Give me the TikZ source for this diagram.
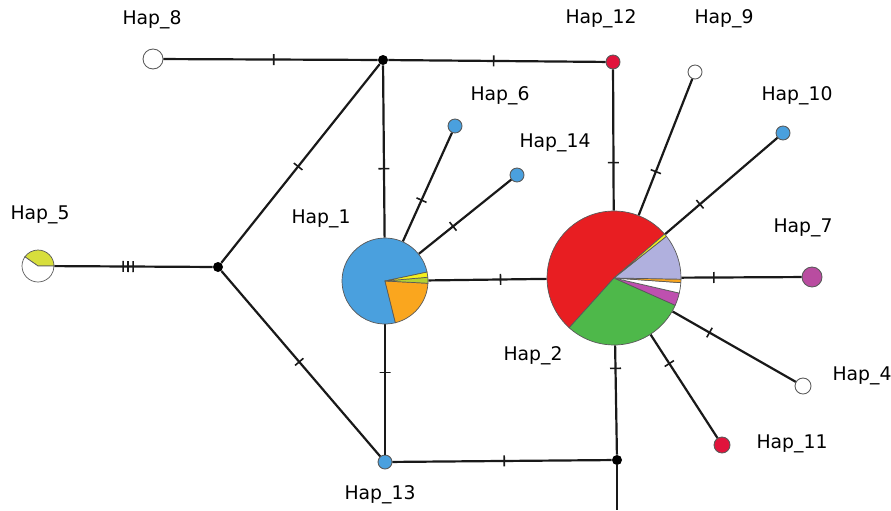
\documentclass[tikz,border=0pt]{standalone}
\usepackage{fontspec}
\setmainfont{DejaVu Sans}
\usepackage{tikz}
\usetikzlibrary{positioning}
\usepackage{xcolor}
\definecolor{hapblue}{RGB}{74,160,222}
\definecolor{haporange}{RGB}{250,166,30}
\definecolor{hapyellow}{RGB}{245,240,30}
\definecolor{hapgreen}{RGB}{78,184,74}
\definecolor{haplime}{RGB}{180,210,50}
\definecolor{hapred}{RGB}{232,30,34}
\definecolor{hapcrimson}{RGB}{225,20,60}
\definecolor{haplav}{RGB}{176,176,222}
\definecolor{hapmag}{RGB}{190,80,175}
\definecolor{happlum}{RGB}{185,76,160}
\definecolor{hapolive}{RGB}{215,222,60}
\tikzstyle{hap}=[circle, draw=black!65, line width=0.5pt, inner sep=0pt]
\tikzstyle{mv}=[circle, fill=black, inner sep=0pt, minimum size=0.2cm]
\tikzstyle{link}=[line width=1.25pt, black!90]
\tikzstyle{mut}=[rectangle, sloped, draw, line width=0.9pt, inner sep=0pt, minimum width=0pt, minimum height=0.22cm]
\tikzstyle{lbl}=[font=\fontsize{10.7}{12}\selectfont, inner sep=0pt]
% one wedge of a haplotype pie: centre, radius, start, end, colour
\newcommand{\hapslice}[5]{%
  \filldraw[fill=#5, draw=black!65, line width=0.4pt] (#1.center) -- ++(#3:#2) arc[start angle=#3, end angle=#4, radius=#2] -- cycle;}

\begin{document}
\begin{tikzpicture}[x=0.02cm, y=-0.02cm]
\useasboundingbox (0,0) rectangle (891,510);

% haplotypes
\node[hap, minimum size=0.4cm, fill=white] (hap8) at (153,59) {};
\node[hap, minimum size=0.28cm, fill=hapcrimson] (hap12) at (613,62) {};
\node[hap, minimum size=0.28cm, fill=white] (hap9) at (695,72) {};
\node[hap, minimum size=0.28cm, fill=hapblue] (hap10) at (783,133) {};
\node[hap, minimum size=0.28cm, fill=hapblue] (hap6) at (455,126) {};
\node[hap, minimum size=0.28cm, fill=hapblue] (hap14) at (517,175) {};
\node[hap, minimum size=0.64cm, draw=none] (hap5) at (38,266) {};
\node[hap, minimum size=1.72cm, draw=none] (hap1) at (385,281) {};
\node[hap, minimum size=2.68cm, draw=none] (hap2) at (614,278) {};
\node[hap, minimum size=0.4cm, fill=happlum] (hap7) at (812,277) {};
\node[hap, minimum size=0.32cm, fill=white] (hap4) at (803,386) {};
\node[hap, minimum size=0.32cm, fill=hapcrimson] (hap11) at (722,445) {};
\node[hap, minimum size=0.28cm, fill=hapblue] (hap13) at (385,462) {};

% median vectors
\node[mv] (mvtop) at (383,60) {};
\node[mv] (mvleft) at (218,267) {};
\node[mv] (mvbot) at (617,460) {};
\coordinate (down) at (617,510);

% links with mutation steps
\begin{scope}[link]
    \draw (hap8) -- node[mut, pos=0.515] {} (mvtop);
    \draw (mvtop) -- node[mut, pos=0.485] {} (hap12);
    \draw (mvtop) -- node[mut, pos=0.515] {} (mvleft);
    \draw (mvtop) -- node[mut, pos=0.6] {} (hap1);
    \draw (hap12) -- node[mut, pos=0.66] {} (hap2);
    \draw (hap1) -- node[mut, pos=0.38] {} (hap6);
    \draw (hap1) -- node[mut, pos=0.37] {} (hap14);
    \draw (hap1) -- node[mut, pos=0.61] {} (hap2);
    \draw (hap5) -- node[mut, pos=0.434] {} node[mut, pos=0.465] {} node[mut, pos=0.497] {} (mvleft);
    \draw (mvleft) -- node[mut, pos=0.49] {} (hap13);
    \draw (hap1) -- node[mut, pos=0.37] {} (hap13);
    \draw (hap13) -- node[mut, pos=0.51] {} (mvbot);
    \draw (mvbot) -- node[mut, pos=0.79] {} (hap2);
    \draw (mvbot) -- (down);
    \draw (hap2) -- node[mut, pos=0.32] {} (hap9);
    \draw (hap2) -- node[mut, pos=0.31] {} (hap10);
    \draw (hap2) -- node[mut, pos=0.27] {} (hap7);
    \draw (hap2) -- node[mut, pos=0.3] {} (hap4);
    \draw (hap2) -- node[mut, pos=0.28] {} (hap11);
\end{scope}

% pies
\hapslice{hap5}{0.32cm}{0}{145}{hapolive}
\hapslice{hap5}{0.32cm}{145}{360}{white}

\hapslice{hap1}{0.86cm}{12}{284}{hapblue}
\hapslice{hap1}{0.86cm}{284}{357}{haporange}
\hapslice{hap1}{0.86cm}{357}{365}{haplime}
\hapslice{hap1}{0.86cm}{5}{12}{hapyellow}

\hapslice{hap2}{1.34cm}{41}{228}{hapred}
\hapslice{hap2}{1.34cm}{228}{336}{hapgreen}
\hapslice{hap2}{1.34cm}{336}{347}{hapmag}
\hapslice{hap2}{1.34cm}{347}{356}{white}
\hapslice{hap2}{1.34cm}{356}{359}{haporange}
\hapslice{hap2}{1.34cm}{-1}{38.5}{haplav}
\hapslice{hap2}{1.34cm}{38.5}{41}{hapyellow}

% labels
\node[lbl] (l8) at (152,20) {Hap\_8};
\node[lbl] (l12) at (601,19) {Hap\_12};
\node[lbl] (l9) at (724,19) {Hap\_9};
\node[lbl] (l10) at (797,96) {Hap\_10};
\node[lbl] (l6) at (500,96) {Hap\_6};
\node[lbl] (l14) at (555,143) {Hap\_14};
\node[lbl] (l1) at (321,219) {Hap\_1};
\node[lbl] (l5) at (40,215) {Hap\_5};
\node[lbl] (l7) at (803,228) {Hap\_7};
\node[lbl] (l2) at (533,356) {Hap\_2};
\node[lbl] (l4) at (862,376) {Hap\_4};
\node[lbl] (l11) at (792,444) {Hap\_11};
\node[lbl] (l13) at (380,495) {Hap\_13};

\end{tikzpicture}
\end{document}
